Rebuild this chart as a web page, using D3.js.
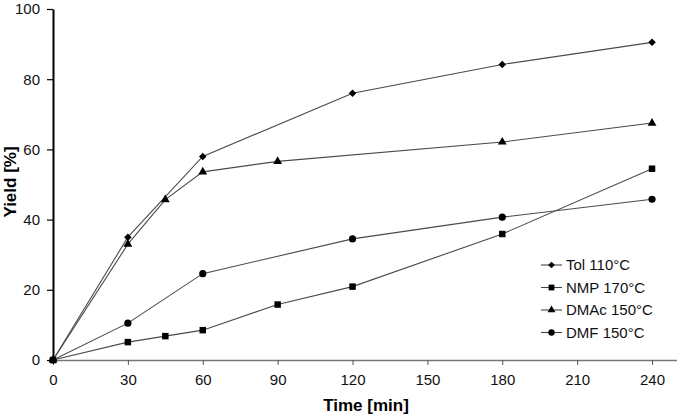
<!DOCTYPE html>
<html>
<head>
<meta charset="utf-8">
<script src="https://cdn.jsdelivr.net/npm/d3@7"></script>
<style>
  body { margin: 0; background: #fff; }
  svg { font-family: "Liberation Sans", Arial, sans-serif; }
</style>
</head>
<body>
<div id="chart"></div>
<script>
// data
const xTicks = [0, 30, 60, 90, 120, 150, 180, 210, 240];
const yTicks = [0, 20, 40, 60, 80, 100];

const tolTime = [0, 30, 60, 120, 180, 240];
const tolYield = [0, 35, 58, 76, 84.2, 90.5];

const nmpTime = [0, 30, 45, 60, 90, 120, 180, 240];
const nmpYield = [0, 5.1, 6.8, 8.5, 15.8, 20.9, 35.9, 54.5];

const dmacTime = [0, 30, 45, 60, 90, 180, 240];
const dmacYield = [0, 33, 45.7, 53.6, 56.6, 62.1, 67.5];

const dmfTime = [0, 30, 60, 120, 180, 240];
const dmfYield = [0, 10.5, 24.6, 34.5, 40.7, 45.8];

const seriesNames = ['Tol 110\u00b0C', 'NMP 170\u00b0C', 'DMAc 150\u00b0C', 'DMF 150\u00b0C'];

const series = [
  {name: seriesNames[0], sym: d3.symbolDiamond2, size: 36, pts: tolTime.map((t, i) => [t, tolYield[i]])},
  {name: seriesNames[1], sym: d3.symbolSquare, size: 42, pts: nmpTime.map((t, i) => [t, nmpYield[i]])},
  {name: seriesNames[2], sym: d3.symbolTriangle, size: 34, pts: dmacTime.map((t, i) => [t, dmacYield[i]])},
  {name: seriesNames[3], sym: d3.symbolCircle, size: 40, pts: dmfTime.map((t, i) => [t, dmfYield[i]])}
];

const width = 677, height = 415;
const margin = {t: 9, r: 0, b: 55, l: 53};
const font = '"Liberation Sans", Arial, sans-serif';

const svg = d3.select('#chart').append('svg')
  .attr('width', width)
  .attr('height', height);

const x = d3.scaleLinear().domain([0, 250]).range([margin.l, width - margin.r]);
const y = d3.scaleLinear().domain([0, 100]).range([height - margin.b, margin.t]);

// x axis
const xAxis = svg.append('g')
  .attr('transform', `translate(0,${y(0)})`)
  .call(d3.axisBottom(x).tickValues(xTicks).tickSize(5).tickPadding(9).tickSizeOuter(0));
xAxis.select('.domain').attr('stroke', '#777').attr('stroke-width', 1.5);
xAxis.selectAll('.tick line').attr('stroke', '#555');
xAxis.selectAll('text').attr('font-size', 15).attr('fill', '#111').attr('font-family', font);

// y axis
const yAxis = svg.append('g')
  .attr('transform', `translate(${x(0)},0)`)
  .call(d3.axisLeft(y).tickValues(yTicks).tickSize(6).tickPadding(7).tickSizeOuter(0));
yAxis.select('.domain').attr('stroke', '#000').attr('stroke-width', 2);
yAxis.selectAll('.tick line').attr('stroke', '#000').attr('stroke-width', 1.2);
yAxis.selectAll('text').attr('font-size', 15).attr('fill', '#111').attr('font-family', font);

// axis titles
svg.append('text')
  .attr('x', 366).attr('y', 411)
  .attr('text-anchor', 'middle')
  .attr('font-size', 17).attr('font-weight', 'bold')
  .text('Time [min]');

svg.append('text')
  .attr('transform', `translate(16,182) rotate(-90)`)
  .attr('text-anchor', 'middle')
  .attr('font-size', 17).attr('font-weight', 'bold')
  .text('Yield [%]');

// lines + markers
const line = d3.line().x(d => x(d[0])).y(d => y(d[1]));

const g = svg.append('g');
series.forEach(s => {
  g.append('path')
    .attr('d', line(s.pts))
    .attr('fill', 'none')
    .attr('stroke', '#4a4a4a')
    .attr('stroke-width', 1.1);
  g.selectAll(null)
    .data(s.pts)
    .enter()
    .append('path')
    .attr('transform', d => `translate(${x(d[0])},${y(d[1])})`)
    .attr('d', d3.symbol().type(s.sym).size(s.size))
    .attr('fill', '#000');
});

// legend
const legend = svg.append('g').attr('transform', 'translate(541,265)');
series.forEach((s, i) => {
  const row = legend.append('g').attr('transform', `translate(0,${i * 22.5})`);
  row.append('line')
    .attr('x1', 0).attr('x2', 21)
    .attr('stroke', '#444').attr('stroke-width', 1.1);
  row.append('path')
    .attr('transform', 'translate(10.5,0)')
    .attr('d', d3.symbol().type(s.sym).size(s.size * 0.8))
    .attr('fill', '#000');
  row.append('text')
    .attr('x', 25).attr('y', 5)
    .attr('font-size', 15)
    .attr('fill', '#111')
    .text(s.name);
});
</script>
</body>
</html>
